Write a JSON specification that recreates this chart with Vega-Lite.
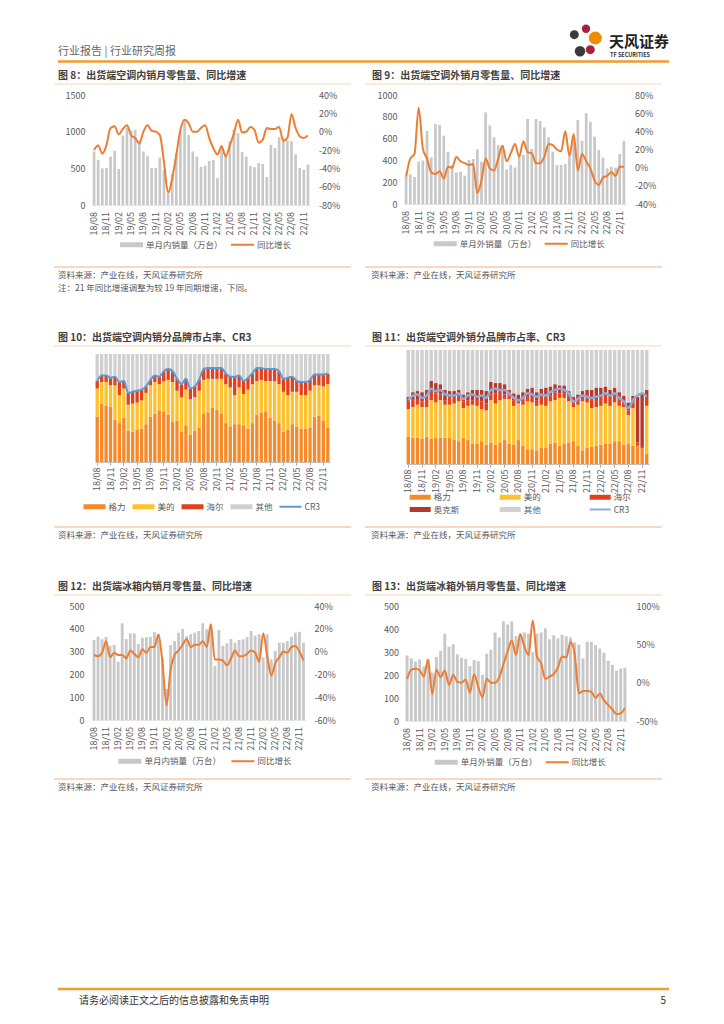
{
"$schema": "https://vega.github.io/schema/vega-lite/v6.json",
"padding": {"left": 53, "top": 18, "right": 5, "bottom": 5},
"config": {
 "view": {"stroke": null},
 "font": "Noto Sans CJK SC",
 "axis": {"labelFont": "Noto Sans CJK SC", "labelFontSize": 9, "labelColor": "#595959", "grid": false},
 "legend": {"labelFont": "Noto Sans CJK SC", "labelFontSize": 8.5, "labelColor": "#595959"},
 "text": {"font": "Noto Sans CJK SC"}
},
"datasets": {
 "ord10": [{"b":"格力","k":1},{"b":"美的","k":2},{"b":"海尔","k":3},{"b":"其他","k":4}],
 "ord11": [{"b":"格力","k":1},{"b":"美的","k":2},{"b":"海尔","k":3},{"b":"奥克斯","k":4},{"b":"其他","k":5}],
 "d8": [{"m":"18/08","v":730,"g":-20},{"m":"18/09","v":615,"g":-15},{"m":"18/10","v":500,"g":-24},{"m":"18/11","v":505,"g":-15},{"m":"18/12","v":660,"g":4},{"m":"19/01","v":740,"g":6},{"m":"19/02","v":490,"g":-3},{"m":"19/03","v":945,"g":3},{"m":"19/04","v":1050,"g":7},{"m":"19/05","v":1020,"g":-4},{"m":"19/06","v":1025,"g":-7},{"m":"19/07","v":880,"g":-13},{"m":"19/08","v":730,"g":0},{"m":"19/09","v":665,"g":7},{"m":"19/10","v":505,"g":1},{"m":"19/11","v":505,"g":0},{"m":"19/12","v":645,"g":-4},{"m":"20/01","v":480,"g":-33},{"m":"20/02","v":150,"g":-67},{"m":"20/03","v":420,"g":-51},{"m":"20/04","v":705,"g":-25},{"m":"20/05","v":1000,"g":2},{"m":"20/06","v":1150,"g":13},{"m":"20/07","v":955,"g":9},{"m":"20/08","v":730,"g":0},{"m":"20/09","v":660,"g":0},{"m":"20/10","v":520,"g":4},{"m":"20/11","v":535,"g":7},{"m":"20/12","v":600,"g":-7},{"m":"21/01","v":610,"g":-18},{"m":"21/02","v":370,"g":-25},{"m":"21/03","v":810,"g":-16},{"m":"21/04","v":660,"g":-27},{"m":"21/05","v":870,"g":-15},{"m":"21/06","v":1030,"g":-2},{"m":"21/07","v":980,"g":13},{"m":"21/08","v":725,"g":-1},{"m":"21/09","v":660,"g":0},{"m":"21/10","v":530,"g":5},{"m":"21/11","v":515,"g":2},{"m":"21/12","v":570,"g":-12},{"m":"22/01","v":560,"g":-9},{"m":"22/02","v":380,"g":4},{"m":"22/03","v":820,"g":3},{"m":"22/04","v":775,"g":3},{"m":"22/05","v":925,"g":5},{"m":"22/06","v":920,"g":-10},{"m":"22/07","v":880,"g":-7},{"m":"22/08","v":870,"g":19},{"m":"22/09","v":690,"g":4},{"m":"22/10","v":505,"g":-5},{"m":"22/11","v":480,"g":-7},{"m":"22/12","v":550,"g":-4}],
 "d9": [{"m":"18/08","v":250,"g":-10},{"m":"18/09","v":272,"g":10},{"m":"18/10","v":248,"g":15},{"m":"18/11","v":388,"g":66},{"m":"18/12","v":398,"g":21},{"m":"19/01","v":670,"g":10},{"m":"19/02","v":428,"g":-5},{"m":"19/03","v":734,"g":-7},{"m":"19/04","v":725,"g":-4},{"m":"19/05","v":627,"g":-12},{"m":"19/06","v":480,"g":1},{"m":"19/07","v":358,"g":0},{"m":"19/08","v":290,"g":12},{"m":"19/09","v":297,"g":7},{"m":"19/10","v":260,"g":5},{"m":"19/11","v":404,"g":3},{"m":"19/12","v":413,"g":4},{"m":"20/01","v":500,"g":-28},{"m":"20/02","v":388,"g":-14},{"m":"20/03","v":840,"g":10},{"m":"20/04","v":720,"g":-1},{"m":"20/05","v":612,"g":-3},{"m":"20/06","v":540,"g":10},{"m":"20/07","v":541,"g":24},{"m":"20/08","v":318,"g":7},{"m":"20/09","v":358,"g":16},{"m":"20/10","v":336,"g":26},{"m":"20/11","v":443,"g":12},{"m":"20/12","v":450,"g":29},{"m":"21/01","v":780,"g":17},{"m":"21/02","v":505,"g":16},{"m":"21/03","v":780,"g":5},{"m":"21/04","v":761,"g":5},{"m":"21/05","v":703,"g":12},{"m":"21/06","v":612,"g":26},{"m":"21/07","v":480,"g":25},{"m":"21/08","v":358,"g":20},{"m":"21/09","v":358,"g":18},{"m":"21/10","v":367,"g":40},{"m":"21/11","v":440,"g":13},{"m":"21/12","v":600,"g":37},{"m":"22/01","v":770,"g":-3},{"m":"22/02","v":580,"g":15},{"m":"22/03","v":832,"g":7},{"m":"22/04","v":755,"g":-1},{"m":"22/05","v":618,"g":-14},{"m":"22/06","v":495,"g":-19},{"m":"22/07","v":425,"g":-11},{"m":"22/08","v":327,"g":-9},{"m":"22/09","v":342,"g":-5},{"m":"22/10","v":333,"g":-9},{"m":"22/11","v":459,"g":1},{"m":"22/12","v":578,"g":1}],
 "d10": [{"m":"18/08","格力":42,"美的":26,"海尔":7,"其他":25,"cr3":75},{"m":"18/09","格力":54,"美的":20,"海尔":6,"其他":20,"cr3":80},{"m":"18/10","格力":52,"美的":22,"海尔":6,"其他":20,"cr3":80},{"m":"18/11","格力":51,"美的":20,"海尔":7,"其他":22,"cr3":78},{"m":"18/12","格力":39,"美的":32,"海尔":8,"其他":21,"cr3":79},{"m":"19/01","格力":36,"美的":26,"海尔":12,"其他":26,"cr3":74},{"m":"19/02","格力":41,"美的":27,"海尔":7,"其他":25,"cr3":75},{"m":"19/03","格力":29,"美的":24,"海尔":11,"其他":36,"cr3":64},{"m":"19/04","格力":28,"美的":26,"海尔":11,"其他":35,"cr3":65},{"m":"19/05","格力":30,"美的":25,"海尔":11,"其他":34,"cr3":66},{"m":"19/06","格力":31,"美的":26,"海尔":10,"其他":33,"cr3":67},{"m":"19/07","格力":35,"美的":29,"海尔":6,"其他":30,"cr3":70},{"m":"19/08","格力":42,"美的":29,"海尔":5,"其他":24,"cr3":76},{"m":"19/09","格力":45,"美的":29,"海尔":6,"其他":20,"cr3":80},{"m":"19/10","格力":48,"美的":24,"海尔":7,"其他":21,"cr3":79},{"m":"19/11","格力":47,"美的":28,"海尔":9,"其他":16,"cr3":84},{"m":"19/12","格力":44,"美的":32,"海尔":10,"其他":14,"cr3":86},{"m":"20/01","格力":37,"美的":37,"海尔":10,"其他":16,"cr3":84},{"m":"20/02","格力":38,"美的":28,"海尔":11,"其他":23,"cr3":77},{"m":"20/03","格力":28,"美的":32,"海尔":12,"其他":28,"cr3":72},{"m":"20/04","格力":34,"美的":33,"海尔":10,"其他":23,"cr3":77},{"m":"20/05","格力":25,"美的":33,"海尔":10,"其他":32,"cr3":68},{"m":"20/06","格力":29,"美的":31,"海尔":10,"其他":30,"cr3":70},{"m":"20/07","格力":32,"美的":34,"海尔":10,"其他":24,"cr3":76},{"m":"20/08","格力":45,"美的":31,"海尔":10,"其他":14,"cr3":86},{"m":"20/09","格力":46,"美的":31,"海尔":10,"其他":13,"cr3":87},{"m":"20/10","格力":50,"美的":27,"海尔":10,"其他":13,"cr3":87},{"m":"20/11","格力":48,"美的":29,"海尔":10,"其他":13,"cr3":87},{"m":"20/12","格力":45,"美的":32,"海尔":10,"其他":13,"cr3":87},{"m":"21/01","格力":36,"美的":36,"海尔":10,"其他":18,"cr3":82},{"m":"21/02","格力":33,"美的":36,"海尔":10,"其他":21,"cr3":79},{"m":"21/03","格力":35,"美的":27,"海尔":17,"其他":21,"cr3":79},{"m":"21/04","格力":35,"美的":34,"海尔":11,"其他":20,"cr3":80},{"m":"21/05","格力":34,"美的":29,"海尔":12,"其他":25,"cr3":75},{"m":"21/06","格力":31,"美的":36,"海尔":11,"其他":22,"cr3":78},{"m":"21/07","格力":36,"美的":36,"海尔":10,"其他":18,"cr3":82},{"m":"21/08","格力":44,"美的":31,"海尔":12,"其他":13,"cr3":87},{"m":"21/09","格力":46,"美的":30,"海尔":11,"其他":13,"cr3":87},{"m":"21/10","格力":47,"美的":28,"海尔":11,"其他":14,"cr3":86},{"m":"21/11","格力":41,"美的":34,"海尔":11,"其他":14,"cr3":86},{"m":"21/12","格力":38,"美的":37,"海尔":11,"其他":14,"cr3":86},{"m":"22/01","格力":36,"美的":36,"海尔":12,"其他":16,"cr3":84},{"m":"22/02","格力":28,"美的":37,"海尔":12,"其他":23,"cr3":77},{"m":"22/03","格力":30,"美的":32,"海尔":16,"其他":22,"cr3":78},{"m":"22/04","格力":35,"美的":30,"海尔":14,"其他":21,"cr3":79},{"m":"22/05","格力":33,"美的":32,"海尔":10,"其他":25,"cr3":75},{"m":"22/06","格力":31,"美的":31,"海尔":12,"其他":26,"cr3":74},{"m":"22/07","格力":31,"美的":31,"海尔":12,"其他":26,"cr3":74},{"m":"22/08","格力":32,"美的":34,"海尔":10,"其他":24,"cr3":76},{"m":"22/09","格力":42,"美的":29,"海尔":10,"其他":19,"cr3":81},{"m":"22/10","格力":43,"美的":28,"海尔":10,"其他":19,"cr3":81},{"m":"22/11","格力":38,"美的":32,"海尔":11,"其他":19,"cr3":81},{"m":"22/12","格力":32,"美的":40,"海尔":10,"其他":18,"cr3":82}],
 "d11": [{"m":"18/08","格力":24,"美的":24,"海尔":7,"奥克斯":4,"其他":41,"cr3":56},{"m":"18/09","格力":23,"美的":27,"海尔":7,"奥克斯":6,"其他":37,"cr3":60},{"m":"18/10","格力":23,"美的":29,"海尔":5,"奥克斯":7,"其他":36,"cr3":61},{"m":"18/11","格力":22,"美的":28,"海尔":5,"奥克斯":8,"其他":37,"cr3":58},{"m":"18/12","格力":24,"美的":26,"海尔":8,"奥克斯":7,"其他":35,"cr3":60},{"m":"19/01","格力":22,"美的":34,"海尔":8,"奥克斯":9,"其他":27,"cr3":66},{"m":"19/02","格力":23,"美的":31,"海尔":8,"奥克斯":9,"其他":29,"cr3":64},{"m":"19/03","格力":23,"美的":33,"海尔":5,"奥克斯":9,"其他":30,"cr3":65},{"m":"19/04","格力":23,"美的":29,"海尔":4,"奥克斯":9,"其他":35,"cr3":61},{"m":"19/05","格力":23,"美的":29,"海尔":6,"奥克斯":6,"其他":36,"cr3":60},{"m":"19/06","格力":21,"美的":32,"海尔":5,"奥克斯":6,"其他":36,"cr3":60},{"m":"19/07","格力":20,"美的":35,"海尔":5,"奥克斯":5,"其他":35,"cr3":62},{"m":"19/08","格力":23,"美的":26,"海尔":6,"奥克斯":6,"其他":39,"cr3":57},{"m":"19/09","格力":21,"美的":30,"海尔":5,"奥克斯":7,"其他":37,"cr3":60},{"m":"19/10","格力":18,"美的":34,"海尔":4,"奥克斯":9,"其他":35,"cr3":61},{"m":"19/11","格力":18,"美的":33,"海尔":6,"奥克斯":8,"其他":35,"cr3":59},{"m":"19/12","格力":20,"美的":28,"海尔":7,"奥克斯":10,"其他":35,"cr3":60},{"m":"20/01","格力":17,"美的":30,"海尔":6,"奥克斯":11,"其他":36,"cr3":58},{"m":"20/02","格力":19,"美的":37,"海尔":5,"奥克斯":11,"其他":28,"cr3":65},{"m":"20/03","格力":17,"美的":36,"海尔":9,"奥克斯":9,"其他":29,"cr3":66},{"m":"20/04","格力":19,"美的":37,"海尔":8,"奥克斯":7,"其他":29,"cr3":65},{"m":"20/05","格力":21,"美的":36,"海尔":4,"奥克斯":9,"其他":30,"cr3":65},{"m":"20/06","格力":18,"美的":39,"海尔":3,"奥克斯":5,"其他":35,"cr3":62},{"m":"20/07","格力":17,"美的":34,"海尔":5,"奥克斯":6,"其他":38,"cr3":58},{"m":"20/08","格力":21,"美的":32,"海尔":3,"奥克斯":5,"其他":39,"cr3":56},{"m":"20/09","格力":16,"美的":36,"海尔":5,"奥克斯":6,"其他":37,"cr3":58},{"m":"20/10","格力":13,"美的":42,"海尔":4,"奥克斯":7,"其他":34,"cr3":62},{"m":"20/11","格力":13,"美的":41,"海尔":4,"奥克斯":9,"其他":33,"cr3":61},{"m":"20/12","格力":12,"美的":39,"海尔":5,"奥克斯":7,"其他":37,"cr3":59},{"m":"21/01","格力":14,"美的":38,"海尔":7,"奥克斯":7,"其他":34,"cr3":61},{"m":"21/02","格力":14,"美的":37,"海尔":8,"奥克斯":8,"其他":33,"cr3":60},{"m":"21/03","格力":18,"美的":37,"海尔":5,"奥克斯":8,"其他":32,"cr3":63},{"m":"21/04","格力":19,"美的":37,"海尔":7,"奥克斯":7,"其他":30,"cr3":65},{"m":"21/05","格力":16,"美的":42,"海尔":4,"奥克斯":7,"其他":31,"cr3":66},{"m":"21/06","格力":18,"美的":40,"海尔":6,"奥克斯":5,"其他":31,"cr3":65},{"m":"21/07","格力":19,"美的":36,"海尔":5,"奥克斯":4,"其他":36,"cr3":62},{"m":"21/08","格力":20,"美的":30,"海尔":4,"奥克斯":5,"其他":41,"cr3":55},{"m":"21/09","格力":16,"美的":36,"海尔":3,"奥克斯":6,"其他":39,"cr3":57},{"m":"21/10","格力":12,"美的":43,"海尔":4,"奥克斯":5,"其他":36,"cr3":60},{"m":"21/11","格力":14,"美的":40,"海尔":5,"奥克斯":6,"其他":35,"cr3":59},{"m":"21/12","格力":15,"美的":34,"海尔":8,"奥克斯":8,"其他":35,"cr3":58},{"m":"22/01","格力":16,"美的":34,"海尔":7,"奥克斯":10,"其他":33,"cr3":59},{"m":"22/02","格力":17,"美的":34,"海尔":7,"奥克斯":9,"其他":33,"cr3":60},{"m":"22/03","格力":18,"美的":35,"海尔":8,"奥克斯":7,"其他":32,"cr3":62},{"m":"22/04","格力":18,"美的":33,"海尔":9,"奥克斯":5,"其他":35,"cr3":60},{"m":"22/05","格力":20,"美的":34,"海尔":7,"奥克斯":6,"其他":33,"cr3":62},{"m":"22/06","格力":20,"美的":31,"海尔":6,"奥克斯":6,"其他":37,"cr3":58},{"m":"22/07","格力":17,"美的":33,"海尔":5,"奥克斯":5,"其他":40,"cr3":55},{"m":"22/08","格力":18,"美的":25,"海尔":4,"奥克斯":7,"其他":46,"cr3":49},{"m":"22/09","格力":16,"美的":33,"海尔":5,"奥克斯":6,"其他":40,"cr3":56},{"m":"22/10","格力":16,"美的":0,"海尔":3,"奥克斯":40,"其他":41,"cr3":60},{"m":"22/11","格力":14,"美的":0,"海尔":1,"奥克斯":47,"其他":38,"cr3":62},{"m":"22/12","格力":9,"美的":42,"海尔":7,"奥克斯":7,"其他":35,"cr3":59}],
 "d12": [{"m":"18/08","v":351,"g":-3},{"m":"18/09","v":365,"g":-4},{"m":"18/10","v":354,"g":-1},{"m":"18/11","v":365,"g":9},{"m":"18/12","v":325,"g":-5},{"m":"19/01","v":329,"g":-1},{"m":"19/02","v":256,"g":-3},{"m":"19/03","v":424,"g":-3},{"m":"19/04","v":355,"g":-6},{"m":"19/05","v":380,"g":1},{"m":"19/06","v":380,"g":-2},{"m":"19/07","v":333,"g":-5},{"m":"19/08","v":361,"g":2},{"m":"19/09","v":363,"g":-1},{"m":"19/10","v":365,"g":4},{"m":"19/11","v":385,"g":4},{"m":"19/12","v":376,"g":15},{"m":"20/01","v":273,"g":-10},{"m":"20/02","v":136,"g":-47},{"m":"20/03","v":329,"g":-16},{"m":"20/04","v":346,"g":-3},{"m":"20/05","v":383,"g":1},{"m":"20/06","v":399,"g":6},{"m":"20/07","v":368,"g":11},{"m":"20/08","v":376,"g":4},{"m":"20/09","v":383,"g":6},{"m":"20/10","v":390,"g":6},{"m":"20/11","v":424,"g":9},{"m":"20/12","v":398,"g":4},{"m":"21/01","v":420,"g":24},{"m":"21/02","v":237,"g":-7},{"m":"21/03","v":395,"g":-7},{"m":"21/04","v":326,"g":-8},{"m":"21/05","v":336,"g":-12},{"m":"21/06","v":355,"g":-6},{"m":"21/07","v":339,"g":1},{"m":"21/08","v":351,"g":-4},{"m":"21/09","v":354,"g":-4},{"m":"21/10","v":363,"g":-2},{"m":"21/11","v":390,"g":1},{"m":"21/12","v":370,"g":-1},{"m":"22/01","v":376,"g":-9},{"m":"22/02","v":275,"g":16},{"m":"22/03","v":376,"g":-4},{"m":"22/04","v":266,"g":-21},{"m":"22/05","v":303,"g":-10},{"m":"22/06","v":339,"g":-5},{"m":"22/07","v":339,"g":0},{"m":"22/08","v":346,"g":-1},{"m":"22/09","v":365,"g":4},{"m":"22/10","v":383,"g":5},{"m":"22/11","v":387,"g":0},{"m":"22/12","v":339,"g":-8}],
 "d13": [{"m":"18/08","v":285,"g":5},{"m":"18/09","v":272,"g":17},{"m":"18/10","v":258,"g":18},{"m":"18/11","v":268,"g":16},{"m":"18/12","v":237,"g":8},{"m":"19/01","v":270,"g":30},{"m":"19/02","v":210,"g":-15},{"m":"19/03","v":278,"g":17},{"m":"19/04","v":305,"g":7},{"m":"19/05","v":380,"g":16},{"m":"19/06","v":323,"g":-3},{"m":"19/07","v":333,"g":10},{"m":"19/08","v":290,"g":1},{"m":"19/09","v":275,"g":0},{"m":"19/10","v":270,"g":4},{"m":"19/11","v":238,"g":-13},{"m":"19/12","v":265,"g":11},{"m":"20/01","v":260,"g":-6},{"m":"20/02","v":200,"g":-19},{"m":"20/03","v":293,"g":5},{"m":"20/04","v":310,"g":0},{"m":"20/05","v":385,"g":0},{"m":"20/06","v":363,"g":7},{"m":"20/07","v":433,"g":24},{"m":"20/08","v":420,"g":41},{"m":"20/09","v":433,"g":55},{"m":"20/10","v":370,"g":36},{"m":"20/11","v":380,"g":63},{"m":"20/12","v":385,"g":47},{"m":"21/01","v":380,"g":36},{"m":"21/02","v":300,"g":81},{"m":"21/03","v":380,"g":34},{"m":"21/04","v":385,"g":25},{"m":"21/05","v":403,"g":5},{"m":"21/06","v":355,"g":8},{"m":"21/07","v":373,"g":11},{"m":"21/08","v":360,"g":20},{"m":"21/09","v":375,"g":34},{"m":"21/10","v":368,"g":33},{"m":"21/11","v":363,"g":53},{"m":"21/12","v":342,"g":38},{"m":"22/01","v":333,"g":-14},{"m":"22/02","v":272,"g":-11},{"m":"22/03","v":345,"g":-11},{"m":"22/04","v":343,"g":-12},{"m":"22/05","v":330,"g":-20},{"m":"22/06","v":315,"g":-14},{"m":"22/07","v":297,"g":-23},{"m":"22/08","v":262,"g":-29},{"m":"22/09","v":245,"g":-35},{"m":"22/10","v":218,"g":-41},{"m":"22/11","v":228,"g":-40},{"m":"22/12","v":232,"g":-33}]
},
"vconcat": [
 {
  "width": 614, "height": 77,
  "data": {"values": [{}]},
  "layer": [
   {"mark": {"type": "point", "filled": true, "shape": "circle", "size": 70, "color": "#A8203D", "opacity": 1}, "encoding": {"x": {"datum": 532, "type": "quantitative", "scale": {"domain": [0, 614], "nice": false, "zero": false}, "axis": null}, "y": {"datum": 66.3, "type": "quantitative", "scale": {"domain": [0, 77], "nice": false, "zero": false}, "axis": null}}},
   {"mark": {"type": "point", "filled": true, "shape": "circle", "size": 80, "color": "#3A3A3A", "opacity": 1}, "encoding": {"x": {"datum": 520.3, "type": "quantitative", "scale": {"domain": [0, 614], "nice": false, "zero": false}, "axis": null}, "y": {"datum": 60.3, "type": "quantitative", "scale": {"domain": [0, 77], "nice": false, "zero": false}, "axis": null}}},
   {"mark": {"type": "point", "filled": true, "shape": "circle", "size": 170, "color": "#F08C00", "opacity": 1}, "encoding": {"x": {"datum": 541.3, "type": "quantitative", "scale": {"domain": [0, 614], "nice": false, "zero": false}, "axis": null}, "y": {"datum": 57, "type": "quantitative", "scale": {"domain": [0, 77], "nice": false, "zero": false}, "axis": null}}},
   {"mark": {"type": "point", "filled": true, "shape": "circle", "size": 110, "color": "#3A3A3A", "opacity": 1}, "encoding": {"x": {"datum": 526, "type": "quantitative", "scale": {"domain": [0, 614], "nice": false, "zero": false}, "axis": null}, "y": {"datum": 43.7, "type": "quantitative", "scale": {"domain": [0, 77], "nice": false, "zero": false}, "axis": null}}},
   {"mark": {"type": "point", "filled": true, "shape": "circle", "size": 80, "color": "#A8203D", "opacity": 1}, "encoding": {"x": {"datum": 536.3, "type": "quantitative", "scale": {"domain": [0, 614], "nice": false, "zero": false}, "axis": null}, "y": {"datum": 45.3, "type": "quantitative", "scale": {"domain": [0, 77], "nice": false, "zero": false}, "axis": null}}},
   {"mark": {"type": "text", "align": "left", "baseline": "middle", "fontSize": 15, "fontWeight": "bold", "color": "#222222"}, "encoding": {"x": {"datum": 555, "type": "quantitative", "scale": {"domain": [0, 614], "nice": false, "zero": false}, "axis": null}, "y": {"datum": 53, "type": "quantitative", "scale": {"domain": [0, 77], "nice": false, "zero": false}, "axis": null}, "text": {"value": "天风证券"}}},
   {"mark": {"type": "text", "align": "left", "baseline": "middle", "fontSize": 5.5, "fontWeight": "bold", "color": "#333333"}, "encoding": {"x": {"datum": 556, "type": "quantitative", "scale": {"domain": [0, 614], "nice": false, "zero": false}, "axis": null}, "y": {"datum": 40, "type": "quantitative", "scale": {"domain": [0, 77], "nice": false, "zero": false}, "axis": null}, "text": {"value": "TF SECURITIES"}}},
   {"mark": {"type": "text", "align": "left", "baseline": "middle", "fontSize": 11, "color": "#666666"}, "encoding": {"x": {"datum": 4, "type": "quantitative", "scale": {"domain": [0, 614], "nice": false, "zero": false}, "axis": null}, "y": {"datum": 43.5, "type": "quantitative", "scale": {"domain": [0, 77], "nice": false, "zero": false}, "axis": null}, "text": {"value": "行业报告 | 行业研究周报"}}},
   {"mark": {"type": "rule", "color": "#F29B30", "strokeWidth": 2.5}, "encoding": {"x": {"datum": 4, "type": "quantitative", "scale": {"domain": [0, 614], "nice": false, "zero": false}, "axis": null}, "x2": {"datum": 615}, "y": {"datum": 33.5, "type": "quantitative", "scale": {"domain": [0, 77], "nice": false, "zero": false}, "axis": null}}},
   {"mark": {"type": "rule", "color": "#FBD7B4", "strokeWidth": 1}, "encoding": {"x": {"datum": 0, "type": "quantitative", "scale": {"domain": [0, 614], "nice": false, "zero": false}, "axis": null}, "x2": {"datum": 297}, "y": {"datum": 11, "type": "quantitative", "scale": {"domain": [0, 77], "nice": false, "zero": false}, "axis": null}}},
   {"mark": {"type": "rule", "color": "#FBD7B4", "strokeWidth": 1}, "encoding": {"x": {"datum": 311, "type": "quantitative", "scale": {"domain": [0, 614], "nice": false, "zero": false}, "axis": null}, "x2": {"datum": 608}, "y": {"datum": 11, "type": "quantitative", "scale": {"domain": [0, 77], "nice": false, "zero": false}, "axis": null}}},
   {"mark": {"type": "text", "align": "left", "baseline": "middle", "fontSize": 10, "fontWeight": "bold", "color": "#404040"}, "encoding": {"x": {"datum": 4, "type": "quantitative", "scale": {"domain": [0, 614], "nice": false, "zero": false}, "axis": null}, "y": {"datum": 19.5, "type": "quantitative", "scale": {"domain": [0, 77], "nice": false, "zero": false}, "axis": null}, "text": {"value": "图 8：出货端空调内销月零售量、同比增速"}}},
   {"mark": {"type": "text", "align": "left", "baseline": "middle", "fontSize": 10, "fontWeight": "bold", "color": "#404040"}, "encoding": {"x": {"datum": 318, "type": "quantitative", "scale": {"domain": [0, 614], "nice": false, "zero": false}, "axis": null}, "y": {"datum": 19.5, "type": "quantitative", "scale": {"domain": [0, 77], "nice": false, "zero": false}, "axis": null}, "text": {"value": "图 9：出货端空调外销月零售量、同比增速"}}}
  ]
 },
 {
  "hconcat": [
   {"width": 37.2, "height": 1, "data": {"values": [{}]}, "mark": {"type": "point", "opacity": 0}},
   {
    "width": 218, "height": 110,
    "data": {"name": "d8"},
    "encoding": {"x": {"field": "m", "type": "ordinal", "title": null, "scale": {"paddingInner": 0.35}, "axis": {"values": ["18/08","18/11","19/02","19/05","19/08","19/11","20/02","20/05","20/08","20/11","21/02","21/05","21/08","21/11","22/02","22/05","22/08","22/11"], "labelAngle": 270, "labelAlign": "right", "labelBaseline": "middle", "labelPadding": 6.5, "ticks": false, "tickSize": 0, "domainColor": "#E3E3E3", "labelOverlap": false, "title": null}}},
    "layer": [
     {"mark": {"type": "bar"}, "encoding": {
       "y": {"field": "v", "type": "quantitative", "title": null, "scale": {"domain": [0, 1500], "nice": false}, "axis": {"values": [0, 500, 1000, 1500], "format": "d", "domain": false, "ticks": false, "tickSize": 0, "labelPadding": 7, "title": null}},
       "color": {"datum": "单月内销量（万台）", "scale": {"domain": ["单月内销量（万台）", "同比增长"], "range": ["#C8C8C8", "#ED7D31"]}, "legend": {"orient": "none", "legendX": 28, "legendY": 144.5, "direction": "horizontal", "title": null, "symbolType": "square", "symbolSize": 100, "labelOffset": 16, "columnPadding": 8, "symbolStrokeWidth": 0, "encode": {"symbols": {"update": {"shape": {"signal": "datum.value === '同比增长' ? 'M-1,-0.2H3.6V0.2H-1Z' : 'M-1,-0.5H3.6V0.5H-1Z'"}, "fill": {"signal": "datum.value === '同比增长' ? '#ED7D31' : '#C8C8C8'"}, "strokeWidth": {"value": 0}, "opacity": {"value": 1}}}}}}
     }},
     {"mark": {"type": "line", "strokeWidth": 2, "interpolate": "monotone"}, "encoding": {
       "y": {"field": "g", "type": "quantitative", "title": null, "scale": {"domain": [-80, 40], "nice": false}, "axis": {"orient": "right", "values": [-80, -60, -40, -20, 0, 20, 40], "labelExpr": "datum.value + '%'", "domain": false, "ticks": false, "tickSize": 0, "labelPadding": 8.5, "title": null}},
       "color": {"datum": "同比增长"}
     }}
    ],
    "resolve": {"scale": {"y": "independent"}}
   },
   {"width": 93.7, "height": 1, "data": {"values": [{}]}, "mark": {"type": "point", "opacity": 0}},
   {
    "width": 222, "height": 109,
    "data": {"name": "d9"},
    "encoding": {"x": {"field": "m", "type": "ordinal", "title": null, "scale": {"paddingInner": 0.35}, "axis": {"values": ["18/08","18/11","19/02","19/05","19/08","19/11","20/02","20/05","20/08","20/11","21/02","21/05","21/08","21/11","22/02","22/05","22/08","22/11"], "labelAngle": 270, "labelAlign": "right", "labelBaseline": "middle", "labelPadding": 6.5, "ticks": false, "tickSize": 0, "domainColor": "#E3E3E3", "labelOverlap": false, "title": null}}},
    "layer": [
     {"mark": {"type": "bar"}, "encoding": {
       "y": {"field": "v", "type": "quantitative", "title": null, "scale": {"domain": [0, 1000], "nice": false}, "axis": {"values": [0, 200, 400, 600, 800, 1000], "format": "d", "domain": false, "ticks": false, "tickSize": 0, "labelPadding": 7, "title": null}},
       "color": {"datum": "单月外销量（万台）", "scale": {"domain": ["单月外销量（万台）", "同比增长"], "range": ["#C8C8C8", "#ED7D31"]}, "legend": {"orient": "none", "legendX": 29.7, "legendY": 143.5, "direction": "horizontal", "title": null, "symbolType": "square", "symbolSize": 100, "labelOffset": 16, "columnPadding": 8, "symbolStrokeWidth": 0, "encode": {"symbols": {"update": {"shape": {"signal": "datum.value === '同比增长' ? 'M-1,-0.2H3.6V0.2H-1Z' : 'M-1,-0.5H3.6V0.5H-1Z'"}, "fill": {"signal": "datum.value === '同比增长' ? '#ED7D31' : '#C8C8C8'"}, "strokeWidth": {"value": 0}, "opacity": {"value": 1}}}}}}
     }},
     {"mark": {"type": "line", "strokeWidth": 2, "interpolate": "monotone"}, "encoding": {
       "y": {"field": "g", "type": "quantitative", "title": null, "scale": {"domain": [-40, 80], "nice": false}, "axis": {"orient": "right", "values": [-40, -20, 0, 20, 40, 60, 80], "labelExpr": "datum.value + '%'", "domain": false, "ticks": false, "tickSize": 0, "labelPadding": 8.5, "title": null}},
       "color": {"datum": "同比增长"}
     }}
    ],
    "resolve": {"scale": {"y": "independent"}}
   }
  ],
  "spacing": 0, "bounds": "flush",
  "resolve": {"scale": {"color": "independent"}, "legend": {"color": "independent"}}
 },
 {
  "width": 614, "height": 255,
  "data": {"values": [{}]},
  "layer": [
   {"mark": {"type": "rule", "color": "#F5B07A", "strokeWidth": 1}, "encoding": {"x": {"datum": 0, "type": "quantitative", "scale": {"domain": [0, 614], "nice": false, "zero": false}, "axis": null}, "x2": {"datum": 297}, "y": {"datum": 83, "type": "quantitative", "scale": {"domain": [0, 255], "nice": false, "zero": false}, "axis": null}}},
   {"mark": {"type": "rule", "color": "#F5B07A", "strokeWidth": 1}, "encoding": {"x": {"datum": 311, "type": "quantitative", "scale": {"domain": [0, 614], "nice": false, "zero": false}, "axis": null}, "x2": {"datum": 608}, "y": {"datum": 83, "type": "quantitative", "scale": {"domain": [0, 255], "nice": false, "zero": false}, "axis": null}}},
   {"mark": {"type": "text", "align": "left", "baseline": "middle", "fontSize": 8.5, "color": "#595959"}, "encoding": {"x": {"datum": 4, "type": "quantitative", "scale": {"domain": [0, 614], "nice": false, "zero": false}, "axis": null}, "y": {"datum": 75, "type": "quantitative", "scale": {"domain": [0, 255], "nice": false, "zero": false}, "axis": null}, "text": {"value": "资料来源：产业在线，天风证券研究所"}}},
   {"mark": {"type": "text", "align": "left", "baseline": "middle", "fontSize": 8.5, "color": "#595959"}, "encoding": {"x": {"datum": 4, "type": "quantitative", "scale": {"domain": [0, 614], "nice": false, "zero": false}, "axis": null}, "y": {"datum": 62, "type": "quantitative", "scale": {"domain": [0, 255], "nice": false, "zero": false}, "axis": null}, "text": {"value": "注：21 年同比增速调整为较 19 年同期增速，下同。"}}},
   {"mark": {"type": "text", "align": "left", "baseline": "middle", "fontSize": 8.5, "color": "#595959"}, "encoding": {"x": {"datum": 317, "type": "quantitative", "scale": {"domain": [0, 614], "nice": false, "zero": false}, "axis": null}, "y": {"datum": 75, "type": "quantitative", "scale": {"domain": [0, 255], "nice": false, "zero": false}, "axis": null}, "text": {"value": "资料来源：产业在线，天风证券研究所"}}},
   {"mark": {"type": "rule", "color": "#FBD7B4", "strokeWidth": 1}, "encoding": {"x": {"datum": 0, "type": "quantitative", "scale": {"domain": [0, 614], "nice": false, "zero": false}, "axis": null}, "x2": {"datum": 297}, "y": {"datum": 4, "type": "quantitative", "scale": {"domain": [0, 255], "nice": false, "zero": false}, "axis": null}}},
   {"mark": {"type": "rule", "color": "#FBD7B4", "strokeWidth": 1}, "encoding": {"x": {"datum": 311, "type": "quantitative", "scale": {"domain": [0, 614], "nice": false, "zero": false}, "axis": null}, "x2": {"datum": 608}, "y": {"datum": 4, "type": "quantitative", "scale": {"domain": [0, 255], "nice": false, "zero": false}, "axis": null}}},
   {"mark": {"type": "text", "align": "left", "baseline": "middle", "fontSize": 10, "fontWeight": "bold", "color": "#404040"}, "encoding": {"x": {"datum": 4, "type": "quantitative", "scale": {"domain": [0, 614], "nice": false, "zero": false}, "axis": null}, "y": {"datum": 12, "type": "quantitative", "scale": {"domain": [0, 255], "nice": false, "zero": false}, "axis": null}, "text": {"value": "图 10：出货端空调内销分品牌市占率、CR3"}}},
   {"mark": {"type": "text", "align": "left", "baseline": "middle", "fontSize": 10, "fontWeight": "bold", "color": "#404040"}, "encoding": {"x": {"datum": 318, "type": "quantitative", "scale": {"domain": [0, 614], "nice": false, "zero": false}, "axis": null}, "y": {"datum": 12, "type": "quantitative", "scale": {"domain": [0, 255], "nice": false, "zero": false}, "axis": null}, "text": {"value": "图 11：出货端空调外销分品牌市占率、CR3"}}}
  ]
 },
 {
  "hconcat": [
   {"width": 40.5, "height": 1, "data": {"values": [{}]}, "mark": {"type": "point", "opacity": 0}},
   {
    "width": 235, "height": 112,
    "data": {"name": "d10"},
    "encoding": {"x": {"field": "m", "type": "ordinal", "title": null, "scale": {"paddingInner": 0.25}, "axis": {"values": ["18/08","18/11","19/02","19/05","19/08","19/11","20/02","20/05","20/08","20/11","21/02","21/05","21/08","21/11","22/02","22/05","22/08","22/11"], "labelAngle": 270, "labelAlign": "right", "labelBaseline": "middle", "labelPadding": 2, "ticks": true, "tickSize": 3, "tickColor": "#A6A6A6", "domainColor": "#BFBFBF", "labelOverlap": false, "title": null}}},
    "layer": [
     {"transform": [{"fold": ["格力", "美的", "海尔", "其他"], "as": ["b", "v"]}, {"lookup": "b", "from": {"data": {"name": "ord10"}, "key": "b", "fields": ["k"]}}],
      "mark": {"type": "bar"},
      "encoding": {
       "y": {"field": "v", "type": "quantitative", "stack": "zero", "title": null, "scale": {"domain": [0, 103.7], "nice": false}, "axis": {"values": [0, 20, 40, 60, 80, 100], "labelExpr": "datum.value + '%'", "domain": false, "ticks": false, "tickSize": 0, "labelPadding": 8, "title": null}},
       "color": {"field": "b", "type": "nominal", "scale": {"domain": ["格力", "美的", "海尔", "其他", "CR3"], "range": ["#F58A2A", "#FFC02E", "#E3401F", "#D0D0D0", "#5B9BD5"]}, "legend": {"orient": "none", "legendX": -11.5, "legendY": 151.5, "direction": "horizontal", "title": null, "symbolType": "square", "symbolSize": 100, "labelOffset": 15, "columnPadding": 6, "symbolStrokeWidth": 0, "encode": {"symbols": {"update": {"shape": {"signal": "datum.value === 'CR3' ? 'M-1,-0.2H3.4V0.2H-1Z' : 'M-1,-0.5H3.4V0.5H-1Z'"}, "fill": {"signal": "datum.value === '格力' ? '#F58A2A' : datum.value === '美的' ? '#FFC02E' : datum.value === '海尔' ? '#E3401F' : datum.value === 'CR3' ? '#5B9BD5' : '#D0D0D0'"}, "strokeWidth": {"value": 0}, "opacity": {"value": 1}}}}}},
       "order": {"field": "k", "type": "quantitative"}
      }},
     {"mark": {"type": "line", "strokeWidth": 2, "interpolate": "monotone"},
      "encoding": {"y": {"field": "cr3", "type": "quantitative", "axis": null}, "color": {"datum": "CR3"}}}
    ]
   },
   {"width": 75.5, "height": 1, "data": {"values": [{}]}, "mark": {"type": "point", "opacity": 0}},
   {
    "width": 243, "height": 114,
    "data": {"name": "d11"},
    "encoding": {"x": {"field": "m", "type": "ordinal", "title": null, "scale": {"paddingInner": 0.25}, "axis": {"values": ["18/08","18/11","19/02","19/05","19/08","19/11","20/02","20/05","20/08","20/11","21/02","21/05","21/08","21/11","22/02","22/05","22/08","22/11"], "labelAngle": 270, "labelAlign": "right", "labelBaseline": "middle", "labelPadding": 2, "ticks": true, "tickSize": 3, "tickColor": "#A6A6A6", "domainColor": "#BFBFBF", "labelOverlap": false, "title": null}}},
    "layer": [
     {"transform": [{"fold": ["格力", "美的", "海尔", "奥克斯", "其他"], "as": ["b", "v"]}, {"lookup": "b", "from": {"data": {"name": "ord11"}, "key": "b", "fields": ["k"]}}],
      "mark": {"type": "bar"},
      "encoding": {
       "y": {"field": "v", "type": "quantitative", "stack": "zero", "title": null, "scale": {"domain": [0, 100], "nice": false}, "axis": {"values": [0, 20, 40, 60, 80, 100], "labelExpr": "datum.value + '%'", "domain": false, "ticks": false, "tickSize": 0, "labelPadding": 8, "title": null}},
       "color": {"field": "b", "type": "nominal", "scale": {"domain": ["格力", "美的", "海尔", "奥克斯", "其他", "CR3"], "range": ["#F58A2A", "#FFC02E", "#E3401F", "#B13A2B", "#D0D0D0", "#8EA9DB"]}, "legend": {"orient": "none", "legendX": 3.7, "legendY": 142, "direction": "horizontal", "columns": 3, "gridAlign": "all", "title": null, "symbolType": "square", "symbolSize": 100, "labelOffset": 14, "columnPadding": 40, "rowPadding": 2.5, "symbolStrokeWidth": 0, "encode": {"symbols": {"update": {"shape": {"signal": "datum.value === 'CR3' ? 'M-1,-0.2H3.2V0.2H-1Z' : 'M-1,-0.5H3.2V0.5H-1Z'"}, "fill": {"signal": "datum.value === '格力' ? '#F58A2A' : datum.value === '美的' ? '#FFC02E' : datum.value === '海尔' ? '#E3401F' : datum.value === '奥克斯' ? '#B13A2B' : datum.value === 'CR3' ? '#8EA9DB' : '#D0D0D0'"}, "strokeWidth": {"value": 0}, "opacity": {"value": 1}}}}}},
       "order": {"field": "k", "type": "quantitative"}
      }},
     {"mark": {"type": "line", "strokeWidth": 2.5, "interpolate": "monotone"},
      "encoding": {"y": {"field": "cr3", "type": "quantitative", "axis": null}, "color": {"datum": "CR3"}}}
    ]
   }
  ],
  "spacing": 0, "bounds": "flush",
  "resolve": {"scale": {"color": "independent"}, "legend": {"color": "independent"}}
 },
 {
  "width": 614, "height": 256,
  "data": {"values": [{}]},
  "layer": [
   {"mark": {"type": "rule", "color": "#F5B07A", "strokeWidth": 1}, "encoding": {"x": {"datum": 0, "type": "quantitative", "scale": {"domain": [0, 614], "nice": false, "zero": false}, "axis": null}, "x2": {"datum": 297}, "y": {"datum": 79, "type": "quantitative", "scale": {"domain": [0, 256], "nice": false, "zero": false}, "axis": null}}},
   {"mark": {"type": "rule", "color": "#F5B07A", "strokeWidth": 1}, "encoding": {"x": {"datum": 311, "type": "quantitative", "scale": {"domain": [0, 614], "nice": false, "zero": false}, "axis": null}, "x2": {"datum": 608}, "y": {"datum": 79, "type": "quantitative", "scale": {"domain": [0, 256], "nice": false, "zero": false}, "axis": null}}},
   {"mark": {"type": "text", "align": "left", "baseline": "middle", "fontSize": 8.5, "color": "#595959"}, "encoding": {"x": {"datum": 4, "type": "quantitative", "scale": {"domain": [0, 614], "nice": false, "zero": false}, "axis": null}, "y": {"datum": 71, "type": "quantitative", "scale": {"domain": [0, 256], "nice": false, "zero": false}, "axis": null}, "text": {"value": "资料来源：产业在线，天风证券研究所"}}},
   {"mark": {"type": "text", "align": "left", "baseline": "middle", "fontSize": 8.5, "color": "#595959"}, "encoding": {"x": {"datum": 317, "type": "quantitative", "scale": {"domain": [0, 614], "nice": false, "zero": false}, "axis": null}, "y": {"datum": 71, "type": "quantitative", "scale": {"domain": [0, 256], "nice": false, "zero": false}, "axis": null}, "text": {"value": "资料来源：产业在线，天风证券研究所"}}},
   {"mark": {"type": "rule", "color": "#FBD7B4", "strokeWidth": 1}, "encoding": {"x": {"datum": 0, "type": "quantitative", "scale": {"domain": [0, 614], "nice": false, "zero": false}, "axis": null}, "x2": {"datum": 297}, "y": {"datum": 11, "type": "quantitative", "scale": {"domain": [0, 256], "nice": false, "zero": false}, "axis": null}}},
   {"mark": {"type": "rule", "color": "#FBD7B4", "strokeWidth": 1}, "encoding": {"x": {"datum": 311, "type": "quantitative", "scale": {"domain": [0, 614], "nice": false, "zero": false}, "axis": null}, "x2": {"datum": 608}, "y": {"datum": 11, "type": "quantitative", "scale": {"domain": [0, 256], "nice": false, "zero": false}, "axis": null}}},
   {"mark": {"type": "text", "align": "left", "baseline": "middle", "fontSize": 10, "fontWeight": "bold", "color": "#404040"}, "encoding": {"x": {"datum": 4, "type": "quantitative", "scale": {"domain": [0, 614], "nice": false, "zero": false}, "axis": null}, "y": {"datum": 19, "type": "quantitative", "scale": {"domain": [0, 256], "nice": false, "zero": false}, "axis": null}, "text": {"value": "图 12：出货端冰箱内销月零售量、同比增速"}}},
   {"mark": {"type": "text", "align": "left", "baseline": "middle", "fontSize": 10, "fontWeight": "bold", "color": "#404040"}, "encoding": {"x": {"datum": 318, "type": "quantitative", "scale": {"domain": [0, 614], "nice": false, "zero": false}, "axis": null}, "y": {"datum": 19, "type": "quantitative", "scale": {"domain": [0, 256], "nice": false, "zero": false}, "axis": null}, "text": {"value": "图 13：出货端冰箱外销月零售量、同比增速"}}}
  ]
 },
 {
  "hconcat": [
   {"width": 37.3, "height": 1, "data": {"values": [{}]}, "mark": {"type": "point", "opacity": 0}},
   {
    "width": 213.5, "height": 114,
    "data": {"name": "d12"},
    "encoding": {"x": {"field": "m", "type": "ordinal", "title": null, "scale": {"paddingInner": 0.3}, "axis": {"values": ["18/08","18/11","19/02","19/05","19/08","19/11","20/02","20/05","20/08","20/11","21/02","21/05","21/08","21/11","22/02","22/05","22/08","22/11"], "labelAngle": 270, "labelAlign": "right", "labelBaseline": "middle", "labelPadding": 6.5, "ticks": false, "tickSize": 0, "domainColor": "#E3E3E3", "labelOverlap": false, "title": null}}},
    "layer": [
     {"mark": {"type": "bar"}, "encoding": {
       "y": {"field": "v", "type": "quantitative", "title": null, "scale": {"domain": [0, 500], "nice": false}, "axis": {"values": [0, 100, 200, 300, 400, 500], "format": "d", "domain": false, "ticks": false, "tickSize": 0, "labelPadding": 8, "title": null}},
       "color": {"datum": "单月内销量（万台）", "scale": {"domain": ["单月内销量（万台）", "同比增长"], "range": ["#C8C8C8", "#ED7D31"]}, "legend": {"orient": "none", "legendX": 26.4, "legendY": 150, "direction": "horizontal", "title": null, "symbolType": "square", "symbolSize": 100, "labelOffset": 16, "columnPadding": 10, "symbolStrokeWidth": 0, "encode": {"symbols": {"update": {"shape": {"signal": "datum.value === '同比增长' ? 'M-1,-0.2H3.6V0.2H-1Z' : 'M-1,-0.5H3.6V0.5H-1Z'"}, "fill": {"signal": "datum.value === '同比增长' ? '#ED7D31' : '#C8C8C8'"}, "strokeWidth": {"value": 0}, "opacity": {"value": 1}}}}}}
     }},
     {"mark": {"type": "line", "strokeWidth": 2, "interpolate": "monotone"}, "encoding": {
       "y": {"field": "g", "type": "quantitative", "title": null, "scale": {"domain": [-60, 40], "nice": false}, "axis": {"orient": "right", "values": [-60, -40, -20, 0, 20, 40], "labelExpr": "datum.value + '%'", "domain": false, "ticks": false, "tickSize": 0, "labelPadding": 8.5, "title": null}},
       "color": {"datum": "同比增长"}
     }}
    ],
    "resolve": {"scale": {"y": "independent"}}
   },
   {"width": 98.2, "height": 1, "data": {"values": [{}]}, "mark": {"type": "point", "opacity": 0}},
   {
    "width": 222, "height": 115,
    "data": {"name": "d13"},
    "encoding": {"x": {"field": "m", "type": "ordinal", "title": null, "scale": {"paddingInner": 0.3}, "axis": {"values": ["18/08","18/11","19/02","19/05","19/08","19/11","20/02","20/05","20/08","20/11","21/02","21/05","21/08","21/11","22/02","22/05","22/08","22/11"], "labelAngle": 270, "labelAlign": "right", "labelBaseline": "middle", "labelPadding": 6.5, "ticks": false, "tickSize": 0, "domainColor": "#E3E3E3", "labelOverlap": false, "title": null}}},
    "layer": [
     {"mark": {"type": "bar"}, "encoding": {
       "y": {"field": "v", "type": "quantitative", "title": null, "scale": {"domain": [0, 500], "nice": false}, "axis": {"values": [0, 100, 200, 300, 400, 500], "format": "d", "domain": false, "ticks": false, "tickSize": 0, "labelPadding": 6.5, "title": null}},
       "color": {"datum": "单月外销量（万台）", "scale": {"domain": ["单月外销量（万台）", "同比增长"], "range": ["#C8C8C8", "#ED7D31"]}, "legend": {"orient": "none", "legendX": 29.7, "legendY": 151, "direction": "horizontal", "title": null, "symbolType": "square", "symbolSize": 100, "labelOffset": 16, "columnPadding": 8, "symbolStrokeWidth": 0, "encode": {"symbols": {"update": {"shape": {"signal": "datum.value === '同比增长' ? 'M-1,-0.2H3.6V0.2H-1Z' : 'M-1,-0.5H3.6V0.5H-1Z'"}, "fill": {"signal": "datum.value === '同比增长' ? '#ED7D31' : '#C8C8C8'"}, "strokeWidth": {"value": 0}, "opacity": {"value": 1}}}}}}
     }},
     {"mark": {"type": "line", "strokeWidth": 2, "interpolate": "monotone"}, "encoding": {
       "y": {"field": "g", "type": "quantitative", "title": null, "scale": {"domain": [-50, 100], "nice": false}, "axis": {"orient": "right", "values": [-50, 0, 50, 100], "labelExpr": "datum.value + '%'", "domain": false, "ticks": false, "tickSize": 0, "labelPadding": 9, "title": null}},
       "color": {"datum": "同比增长"}
     }}
    ],
    "resolve": {"scale": {"y": "independent"}}
   }
  ],
  "spacing": 0, "bounds": "flush",
  "resolve": {"scale": {"color": "independent"}, "legend": {"color": "independent"}}
 },
 {
  "width": 614, "height": 406,
  "data": {"values": [{}]},
  "layer": [
   {"mark": {"type": "rule", "color": "#F5B07A", "strokeWidth": 1}, "encoding": {"x": {"datum": 0, "type": "quantitative", "scale": {"domain": [0, 614], "nice": false, "zero": false}, "axis": null}, "x2": {"datum": 297}, "y": {"datum": 233, "type": "quantitative", "scale": {"domain": [0, 406], "nice": false, "zero": false}, "axis": null}}},
   {"mark": {"type": "rule", "color": "#F5B07A", "strokeWidth": 1}, "encoding": {"x": {"datum": 311, "type": "quantitative", "scale": {"domain": [0, 614], "nice": false, "zero": false}, "axis": null}, "x2": {"datum": 608}, "y": {"datum": 233, "type": "quantitative", "scale": {"domain": [0, 406], "nice": false, "zero": false}, "axis": null}}},
   {"mark": {"type": "text", "align": "left", "baseline": "middle", "fontSize": 8.5, "color": "#595959"}, "encoding": {"x": {"datum": 4, "type": "quantitative", "scale": {"domain": [0, 614], "nice": false, "zero": false}, "axis": null}, "y": {"datum": 225.5, "type": "quantitative", "scale": {"domain": [0, 406], "nice": false, "zero": false}, "axis": null}, "text": {"value": "资料来源：产业在线，天风证券研究所"}}},
   {"mark": {"type": "text", "align": "left", "baseline": "middle", "fontSize": 8.5, "color": "#595959"}, "encoding": {"x": {"datum": 317, "type": "quantitative", "scale": {"domain": [0, 614], "nice": false, "zero": false}, "axis": null}, "y": {"datum": 225.5, "type": "quantitative", "scale": {"domain": [0, 406], "nice": false, "zero": false}, "axis": null}, "text": {"value": "资料来源：产业在线，天风证券研究所"}}},
   {"mark": {"type": "rule", "color": "#F29B30", "strokeWidth": 2.5}, "encoding": {"x": {"datum": 4, "type": "quantitative", "scale": {"domain": [0, 614], "nice": false, "zero": false}, "axis": null}, "x2": {"datum": 615}, "y": {"datum": 23, "type": "quantitative", "scale": {"domain": [0, 406], "nice": false, "zero": false}, "axis": null}}},
   {"mark": {"type": "text", "align": "left", "baseline": "middle", "fontSize": 10, "color": "#333333"}, "encoding": {"x": {"datum": 25, "type": "quantitative", "scale": {"domain": [0, 614], "nice": false, "zero": false}, "axis": null}, "y": {"datum": 11.3, "type": "quantitative", "scale": {"domain": [0, 406], "nice": false, "zero": false}, "axis": null}, "text": {"value": "请务必阅读正文之后的信息披露和免责申明"}}},
   {"mark": {"type": "text", "align": "right", "baseline": "middle", "fontSize": 10, "color": "#333333"}, "encoding": {"x": {"datum": 612, "type": "quantitative", "scale": {"domain": [0, 614], "nice": false, "zero": false}, "axis": null}, "y": {"datum": 11.3, "type": "quantitative", "scale": {"domain": [0, 406], "nice": false, "zero": false}, "axis": null}, "text": {"value": "5"}}}
  ]
 }
],
"spacing": 0,
"bounds": "flush",
"resolve": {"scale": {"color": "independent"}, "legend": {"color": "independent"}}
}
